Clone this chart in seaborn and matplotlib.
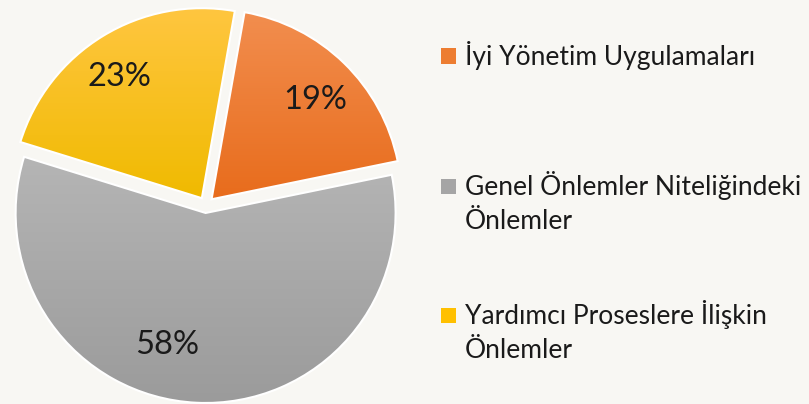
import numpy as np
import matplotlib
matplotlib.use("Agg")
import matplotlib.pyplot as plt
import seaborn as sns
from matplotlib.colors import LinearSegmentedColormap
from matplotlib.patches import Rectangle

# ---- data ----
categories = ["İyi Yönetim Uygulamaları",
              "Genel Önlemler Niteliğindeki\nÖnlemler",
              "Yardımcı Proseslere İlişkin\nÖnlemler"]
values = [19, 58, 23]
base_colors = ["#ED7D31", "#A5A5A5", "#FFC000"]
grad_top = ["#F28E4F", "#B5B5B5", "#FFC640"]
grad_bottom = ["#E86C1C", "#9B9B9B", "#F0BA00"]

BG = "#F8F7F3"
sns.set_theme(style="white")
plt.rcParams['font.family'] = ['Lato', 'DejaVu Sans']

W, H = 809, 404
fig = plt.figure(figsize=(W / 100, H / 100), dpi=100)
fig.patch.set_facecolor(BG)

# pie axes: center (206, 205) px, radius 190 px
cx, cy, R = 206, 205, 190
half = 200
ax = fig.add_axes([(cx - half) / W, (H - cy - half) / H, 2 * half / W, 2 * half / H])
ax.set_facecolor(BG)

wedges, texts, autotexts = ax.pie(
    values, colors=base_colors, startangle=80, counterclock=False,
    explode=[0.042] * 3, autopct="%1.0f%%", pctdistance=0.76,
    wedgeprops=dict(edgecolor="white", linewidth=1.5),
    textprops=dict(fontsize=23.5, color="#1a1a1a"))

grad = np.linspace(0, 1, 256).reshape(-1, 1)
for w, ct, cb in zip(wedges, grad_top, grad_bottom):
    ext = w.get_path().get_extents()
    cmap = LinearSegmentedColormap.from_list("g", [cb, ct])
    im = ax.imshow(grad, cmap=cmap, origin="lower", aspect="auto",
                   extent=(ext.x0, ext.x1, ext.y0, ext.y1), zorder=w.get_zorder() - 0.01)
    im.set_clip_path(w)
    w.set_facecolor("none")
    w.set_zorder(w.get_zorder() + 0.1)

lim = half / R
ax.set_xlim(-lim, lim)
ax.set_ylim(-lim, lim)
ax.set_aspect("equal")
ax.axis("off")

# label placement (in pie radius units), as in the reference
label_pos = [(0.574, 0.553), (-0.205, -0.737), (-0.453, 0.674)]
for t, p in zip(autotexts, label_pos):
    t.set_position(p)
    t.set_zorder(5)

# ---- legend (manual, markers aligned to first line) ----
baselines = [[65], [195, 229], [324, 358]]
sq = 15
for lab, bl, col in zip(categories, baselines, base_colors):
    lines = lab.split("\n")
    yc = bl[0] - 9
    fig.patches.append(Rectangle((441 / W, 1 - (yc + sq / 2) / H), sq / W, sq / H,
                                 transform=fig.transFigure, facecolor=col,
                                 edgecolor="none", figure=fig))
    for line, b in zip(lines, bl):
        fig.text(465 / W, 1 - b / H, line, fontsize=19, color="#1a1a1a",
                 va="baseline", ha="left")

fig.savefig("out.png", dpi=100, facecolor=BG)
